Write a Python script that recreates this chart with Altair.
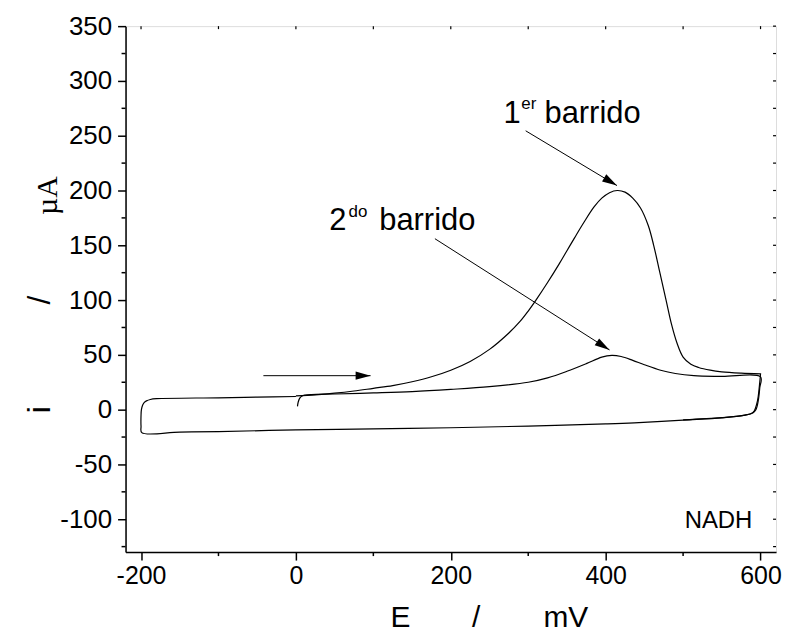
import math
import altair as alt
import pandas as pd

# ---------------- data ----------------
# 1st sweep, forward scan 0 -> 600 mV
s1_E = [0, 25, 50, 75, 100, 125, 150, 175, 200, 225, 250, 275, 290, 300, 310, 325,
        340, 350, 360, 372, 385, 395, 405, 415, 425, 435, 445, 455, 462, 470, 478,
        485, 492, 500, 510, 520, 535, 550, 575, 600]
s1_i = [12.5, 13.5, 15, 17, 19.5, 22, 25.5, 30, 36, 44, 55, 70, 81, 90, 100, 116,
        133, 145, 157, 171, 185, 193, 198, 200, 198.5, 193, 184, 168, 150, 125, 100,
        78, 61, 48, 41.5, 38.5, 36, 34.5, 33.3, 32.6]

# reverse scan 600 -> -200 mV and back to 0 mV
rev_E = [600, 599, 597, 595, 592, 588, 580, 550, 500, 437, 400, 300, 200, 100, 0,
         -100, -150, -199, -200, -200, -199.5, -198, -196, -193, -188, -180, -100,
         -50, 0]
rev_i = [32.6, 25, 12, 5, -1, -3.5, -5, -7.5, -9.5, -12, -13, -15, -16.5, -17.5,
         -18.5, -20, -20.5, -21, -15, -5, 0, 4, 6.5, 8, 9.3, 10, 10.8, 11.4, 12]

# 2nd sweep, forward scan
s2_E = [2, 3, 5, 8, 12, 20, 50, 100, 150, 200, 250, 300, 325, 350, 375, 395, 408,
        420, 435, 450, 471, 490, 514, 550, 600, 599, 597, 594, 590, 580, 550, 500]
s2_i = [3, 7, 10.5, 12.5, 13.3, 13.8, 14.3, 15.3, 16.5, 18.5, 21, 25, 29, 35, 42,
        48, 49.5, 48.5, 45, 41, 36, 33, 31, 30.3, 29.9, 20, 8, 0, -3, -5, -7.3, -9.3]

# arrows: start (E, i) -> end (E, i)
arrow_E0 = [296.7, 179.5, -42]
arrow_i0 = [254.5, 156, 31]
arrow_E1 = [414.6, 405, 96.4]
arrow_i1 = [204.5, 54.5, 31]

# annotation texts
big_text = ["1", "barrido", "2", "barrido"]
big_E = [268, 321, 43, 107.6]
big_i = [262, 262, 163.6, 163.6]
sup_text = ["er", "do"]
sup_E = [291, 68]
sup_i = [274, 176]

x_ticks = [-200, 0, 200, 400, 600]
y_ticks = [-100, -50, 0, 50, 100, 150, 200, 250, 300, 350]
x_minor = [-100, 100, 300, 500]
y_minor = [-125, -75, -25, 25, 75, 125, 175, 225, 275, 325]
x_top = [-200, -100, 0, 100, 200, 300, 400, 500, 600]
y_right = [-125, -100, -75, -50, -25, 0, 25, 50, 75, 100, 125, 150, 175, 200, 225,
           250, 275, 300, 325, 350]

# ---------------- chart ----------------
W, H = 653, 528
X_DOM = [-220, 620]
Y_DOM = [-130, 350]
FONT = "Liberation Sans"
LABEL_EXPR = "datum.value + ''"

axis_x = alt.Axis(values=x_ticks, title=None, grid=False, tickSize=8,
                  labelFontSize=25, labelFont=FONT, labelColor="black",
                  labelPadding=4, domainColor="black", tickColor="black",
                  domainWidth=1.5, tickWidth=1.5, labelFlush=False,
                  labelExpr=LABEL_EXPR)
axis_y = alt.Axis(values=y_ticks, title=None, grid=False, tickSize=8,
                  labelFontSize=26, labelFont=FONT, labelColor="black",
                  labelPadding=6, domainColor="black", tickColor="black",
                  domainWidth=1.5, tickWidth=1.5, labelFlush=False,
                  labelExpr=LABEL_EXPR)


def X(f):
    return alt.X(f, type="quantitative",
                 scale=alt.Scale(domain=X_DOM, nice=False, zero=False), axis=axis_x)


def Y(f):
    return alt.Y(f, type="quantitative",
                 scale=alt.Scale(domain=Y_DOM, nice=False, zero=False), axis=axis_y)


def path_df(E, I, name):
    return pd.DataFrame({"E": E, "i": I, "k": list(range(len(E))), "s": name})


curves = pd.concat([path_df(s1_E + rev_E, s1_i + rev_i, "scan1"),
                    path_df(s2_E, s2_i, "scan2")], ignore_index=True)

lines = alt.Chart(curves).mark_line(color="black", strokeWidth=1.2,
                                    interpolate="catmull-rom").encode(
    x=X("E"), y=Y("i"), detail="s:N", order=alt.Order("k:Q"))

sx = W / (X_DOM[1] - X_DOM[0])
sy = H / (Y_DOM[1] - Y_DOM[0])
angles = [math.degrees(math.atan2(-(i1 - i0) * sy, (e1 - e0) * sx)) % 360
          for e0, i0, e1, i1 in zip(arrow_E0, arrow_i0, arrow_E1, arrow_i1)]
arrows = pd.DataFrame({"E0": arrow_E0, "i0": arrow_i0, "E1": arrow_E1,
                       "i1": arrow_i1, "ang": angles})

arrow_lines = alt.Chart(arrows).mark_rule(color="black", strokeWidth=1).encode(
    x=X("E0"), y=Y("i0"), x2="E1", y2="i1")
arrow_heads = alt.Chart(arrows).mark_point(
    shape="M0,0L-2,-0.55L-2,0.55Z", filled=True, color="black", opacity=1,
    size=225, strokeWidth=0).encode(
    x=X("E1"), y=Y("i1"), angle=alt.Angle("ang:Q", scale=None))

big = alt.Chart(pd.DataFrame({"t": big_text, "E": big_E, "i": big_i})).mark_text(
    font=FONT, fontSize=31, align="left", baseline="alphabetic", color="black").encode(
    x=X("E"), y=Y("i"), text="t:N")
sup = alt.Chart(pd.DataFrame({"t": sup_text, "E": sup_E, "i": sup_i})).mark_text(
    font=FONT, fontSize=17, align="left", baseline="alphabetic", color="black").encode(
    x=X("E"), y=Y("i"), text="t:N")
nadh = alt.Chart(pd.DataFrame({"t": ["NADH"], "E": [502], "i": [-108]})).mark_text(
    font=FONT, fontSize=24, align="left", baseline="alphabetic", color="black").encode(
    x=X("E"), y=Y("i"), text="t:N")

# minor / mirrored ticks
bot_minor = alt.Chart(pd.DataFrame({"v": x_minor})).mark_rule(
    color="black", strokeWidth=1.5).encode(x=X("v"), y=alt.value(H), y2=alt.value(H + 4))
left_minor = alt.Chart(pd.DataFrame({"v": y_minor})).mark_rule(
    color="black", strokeWidth=1.5).encode(y=Y("v"), x=alt.value(-4), x2=alt.value(0))
top_ticks = alt.Chart(pd.DataFrame({"v": x_top})).mark_rule(
    color="black", strokeWidth=1.2).encode(x=X("v"), y=alt.value(0), y2=alt.value(3))
right_ticks = alt.Chart(pd.DataFrame({"v": y_right})).mark_rule(
    color="black", strokeWidth=1.2).encode(y=Y("v"), x=alt.value(W - 3), x2=alt.value(W))

one = alt.Data(values=[{"a": 1}])


def free_text(txt, px, py, size, font=FONT, angle=0):
    return alt.Chart(one).mark_text(font=font, fontSize=size, angle=angle,
                                    align="center", baseline="middle",
                                    color="black").encode(
        x=alt.value(px), y=alt.value(py), text=alt.value(txt))


ytitle_i = free_text("i", -86, 385, 32, angle=270)
ytitle_sl = free_text("/", -86, 275, 32, angle=270)
ytitle_u = free_text("µA", -78, 170, 30, font="Liberation Serif", angle=270)
xt_E = free_text("E", 276, 594, 30)
xt_sl = free_text("/", 352, 594, 30)
xt_mv = free_text("mV", 442, 594, 30)

chart = alt.layer(
    lines, arrow_lines, arrow_heads, big, sup, nadh,
    bot_minor, left_minor, top_ticks, right_ticks,
    ytitle_i, ytitle_sl, ytitle_u, xt_E, xt_sl, xt_mv,
).properties(
    width=W, height=H,
    autosize=alt.AutoSizeParams(type="none"),
    padding={"left": 118, "top": 17, "right": 6, "bottom": 80},
).configure_view(stroke="black", strokeWidth=1.5).configure(background="white")

chart.save("out.html", embed_options={"renderer": "svg", "actions": False})
